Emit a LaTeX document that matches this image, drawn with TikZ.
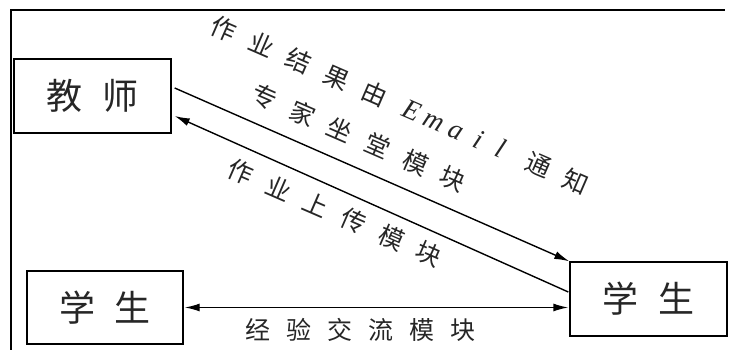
\documentclass[tikz,border=0pt]{standalone}
\usepackage{fontspec}
\newfontfamily\cjk{Noto Sans CJK SC}
\newfontfamily\latinit{Liberation Serif}
\usetikzlibrary{arrows.meta}
\newcommand\cbox[1]{\makebox[41pt]{#1}}
\newcommand\lbox[1]{\makebox[24pt]{\latinit\itshape\fontsize{28}{30}\selectfont #1}}
\begin{document}
\begin{tikzpicture}[x=1pt,y=1pt,
  box/.style={draw, line width=1.4pt, minimum width=157pt, minimum height=74pt, inner sep=0pt,
    font=\cjk\fontsize{36}{40}\selectfont, text=black!85},
  lbl/.style={inner sep=0pt, font=\cjk\fontsize{25}{28}\selectfont, text=black!85},
  conn/.style={line width=1.4pt, -{Latex[length=15pt,width=8pt]}},
  frame/.style={line width=1.8pt}]
\useasboundingbox (0,0) rectangle (734,350);
% frame
\coordinate (fb) at (11,0);
\coordinate (fc) at (11,340);
\coordinate (fr) at (725,340);
\draw[frame] (fb) -- (fc) -- (fr);
% boxes
\node[box] (t)  at (92.5,254) {教\hspace{20pt}师};
\node[box, minimum width=156pt, minimum height=73pt] (s1) at (105,42.5) {学\hspace{20pt}生};
\node[box] (s2) at (648.5,51) {学\hspace{20pt}生};
% connectors
\draw[conn] ([shift={(3pt,8pt)}]t.east) -- (s2.north west);
\draw[conn] ([shift={(-1pt,7pt)}]s2.west) -- ([shift={(3pt,-20pt)}]t.east);
\draw[conn, {Latex[length=15pt,width=8pt]}-{Latex[length=15pt,width=8pt]}] ([xshift=1pt]s1.east) -- ([xshift=-1pt]s1.east -| s2.west);
% labels
\node[lbl, rotate=-23.5] (l1) at (400,245)
  {\cbox{作}\cbox{业}\cbox{结}\cbox{果}\cbox{由}\hspace{9pt}\lbox{E}\lbox{m}\lbox{a}\lbox{i}\lbox{l}\hspace{9pt}\cbox{通}\cbox{知}};
\node[lbl, rotate=-23.5] (l2) at (359,212)
  {\cbox{专}\cbox{家}\cbox{坐}\cbox{堂}\cbox{模}\cbox{块}};
\node[lbl, rotate=-23.5] (l3) at (335,137)
  {\cbox{作}\cbox{业}\cbox{上}\cbox{传}\cbox{模}\cbox{块}};
\node[lbl] (l4) at (360,20)
  {\cbox{经}\cbox{验}\cbox{交}\cbox{流}\cbox{模}\cbox{块}};
\end{tikzpicture}
\end{document}
